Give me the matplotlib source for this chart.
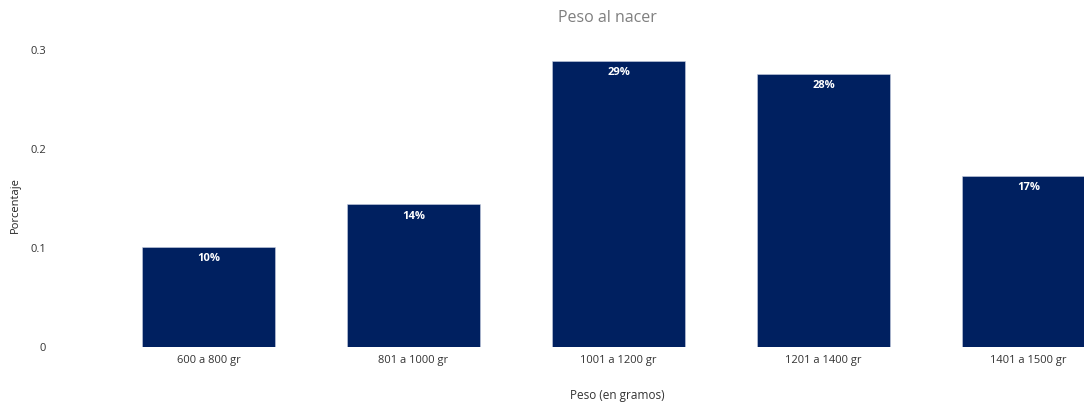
import matplotlib.pyplot as plt

categorias = ["600 a 800 gr", "801 a 1000 gr", "1001 a 1200 gr", "1201 a 1400 gr", "1401 a 1500 gr"]
porcentajes = [0.101, 0.144, 0.289, 0.276, 0.173]
etiquetas = ["10%", "14%", "29%", "28%", "17%"]

plt.rcParams['font.family'] = ['Open Sans', 'DejaVu Sans']

fig = plt.figure(figsize=(10.84, 4.03), dpi=100)
# el eje se extiende más allá del borde derecho, la última barra queda cortada
ax = fig.add_axes([0.0978, 0.139, 0.9456, 0.737])

x = range(len(categorias))
barras = ax.bar(x, porcentajes, width=0.65, color='#002060', edgecolor='#c8cfe0', linewidth=0.4)

for b, txt in zip(barras, etiquetas):
    ax.annotate(txt, (b.get_x() + b.get_width() / 2, b.get_height()),
                xytext=(0, -8.5), textcoords='offset points', ha='center', va='center',
                color='white', fontsize=8, fontweight='bold')

ax.set_xlim(-0.5, 4.5)
ax.set_ylim(0, 0.3)
ax.set_yticks([0, 0.1, 0.2, 0.3])
ax.set_yticklabels(["0", "0.1", "0.2", "0.3"])
ax.set_xticks(list(x))
ax.set_xticklabels(categorias)
ax.tick_params(axis='both', length=0, labelsize=8, labelcolor='#333333')
ax.tick_params(axis='y', pad=43)
ax.tick_params(axis='x', pad=6)
for s in ax.spines.values():
    s.set_visible(False)

fig.text(607 / 1084, 1 - 18 / 403, "Peso al nacer", ha='center', va='center', fontsize=11.5, color='#7f7f7f')
fig.text(15 / 1084, 1 - 205 / 403, "Porcentaje", rotation=90, ha='center', va='center', fontsize=8, color='#222222')
fig.text(617 / 1084, 1 - 395 / 403, "Peso (en gramos)", ha='center', va='center', fontsize=8.5, color='#333333')

fig.savefig("out.png", dpi=100)
